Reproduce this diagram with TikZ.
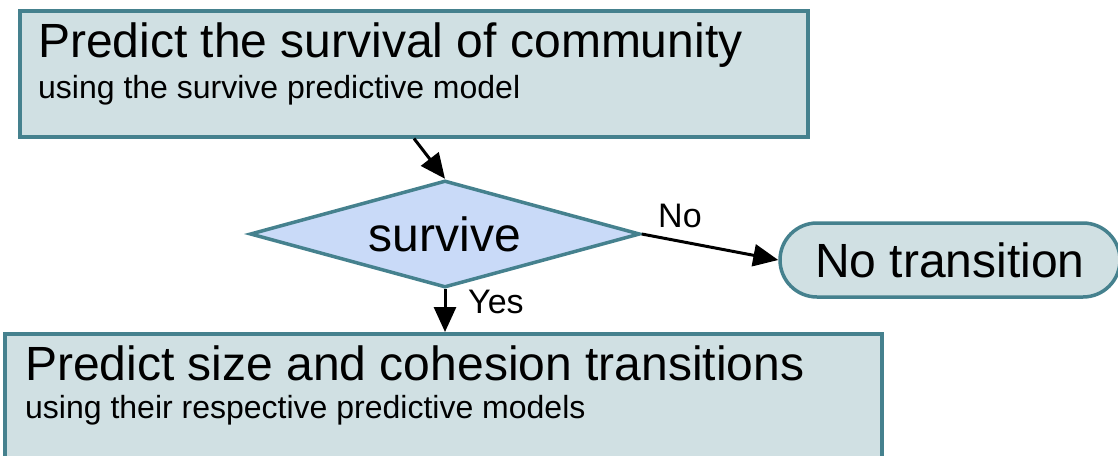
\documentclass[tikz,border=0pt]{standalone}
\usepackage{fontspec}
\setmainfont{Liberation Sans}
\usetikzlibrary{shapes.geometric,arrows.meta}
\definecolor{edgeteal}{HTML}{45818E}
\definecolor{boxfill}{HTML}{D0E0E3}
\definecolor{diafill}{HTML}{C9DAF8}
\tikzset{
  procbox/.style={draw=edgeteal, fill=boxfill, line width=3.5pt, rectangle, inner sep=0pt, anchor=north west},
  decision/.style={draw=edgeteal, fill=diafill, line width=3.5pt, diamond, aspect=3.64, inner sep=0pt,
    minimum width=390pt, minimum height=107pt, font=\fontsize{48}{56}\selectfont},
  terminal/.style={draw=edgeteal, fill=boxfill, line width=3.5pt, rectangle, rounded corners=37pt,
    minimum width=340pt, minimum height=74pt, inner sep=0pt, font=\fontsize{48}{56}\selectfont},
  bigtext/.style={anchor=base west, inner sep=0pt, font=\fontsize{48}{56}\selectfont},
  smalltext/.style={anchor=base west, inner sep=0pt, font=\fontsize{32}{38}\selectfont},
  lbl/.style={anchor=base west, inner sep=0pt, font=\fontsize{34}{40}\selectfont},
  arr/.style={line width=3pt, -{Triangle[length=25pt,width=22pt]}}
}
\begin{document}
\begin{tikzpicture}[x=1pt, y=-1pt]
  \useasboundingbox (0,0) rectangle (1118,455);

  % first step
  \node[procbox, minimum width=788pt, minimum height=126pt] (top) at (18,9) {};
  \node[bigtext] (toptitle) at (38,57) {Predict the survival of community};
  \node[smalltext] (topsub) at (38,98) {using the survive predictive model};

  % decision
  \node[decision] (dia) at (445,234) {survive};

  % terminal outcome
  \node[terminal] (nt) at (950,260) {No transition};

  % second step
  \node[procbox, minimum width=877pt, minimum height=140pt] (bot) at (3,332) {};
  \node[bigtext] (bottitle) at (25,380) {Predict size and cohesion transitions};
  \node[smalltext] (botsub) at (25,418) {using their respective predictive models};

  % connectors
  \draw[arr] ([xshift=396pt]top.south west) -- (dia.north);
  \draw[arr] (dia.east) -- (nt.west);
  \draw[arr] (dia.south) -- (dia.south |- bot.north);

  % branch labels
  \node[lbl] (nolbl) at (658,227) {No};
  \node[lbl] (yeslbl) at (468,313) {Yes};
\end{tikzpicture}
\end{document}
